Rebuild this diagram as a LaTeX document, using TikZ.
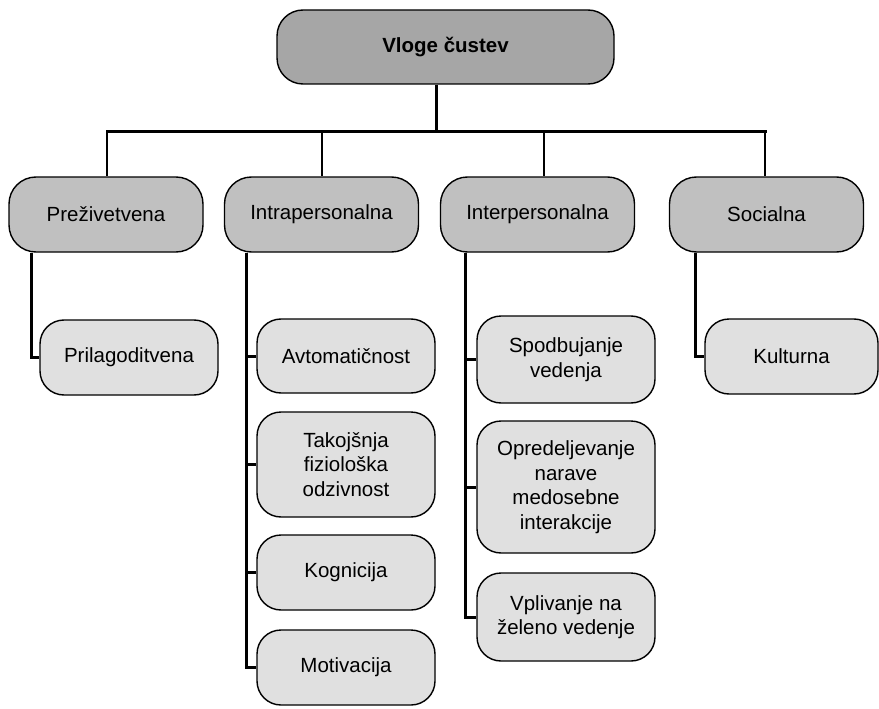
\documentclass[tikz,border=0pt]{standalone}
\usepackage{fontspec}
\setmainfont{Liberation Sans}
\definecolor{rootgray}{HTML}{A6A6A6}
\definecolor{groupgray}{HTML}{C0C0C0}
\definecolor{leafgray}{HTML}{E0E0E0}
\tikzset{
    box/.style = {draw, line width=1.4pt, align=center, inner sep=0pt,
        font=\fontsize{20.5}{24.5}\selectfont},
    rootbox/.style = {box, fill=rootgray, rounded corners=26pt,
        minimum width=337pt, minimum height=74pt,
        font=\fontsize{20.5}{24.5}\selectfont\bfseries},
    groupbox/.style = {box, fill=groupgray, rounded corners=27pt,
        minimum width=194pt, minimum height=75pt},
    leafbox/.style = {box, fill=leafgray, rounded corners=24pt,
        minimum width=178pt},
    conn/.style = {line width=3pt},
    drop/.style = {line width=2.2pt},
}
\begin{document}
\begin{tikzpicture}[x=1pt, y=-1pt]
    \useasboundingbox (0,0) rectangle (879,709);
    % top level
    \node[rootbox] (root) at (445.5,47) {Vloge čustev};
    \node[groupbox] (prez)  at (106,214.5)   {Preživetvena};
    \node[groupbox] (intra) at (321.5,214.5) {Intrapersonalna};
    \node[groupbox] (inter) at (537.5,214.5) {Interpersonalna};
    \node[groupbox] (soc)   at (766.5,214.5) {Socialna};
    % leaves
    \node[leafbox, minimum height=75pt]  (pril) at (129,357.5) {Prilagoditvena};
    \node[leafbox, minimum height=74pt]  (avto) at (346,356)   {Avtomatičnost};
    \node[leafbox, minimum height=105pt] (tako) at (346,464.5) {Takojšnja\\fiziološka\\odzivnost};
    \node[leafbox, minimum height=75pt]  (kogn) at (346,572.5) {Kognicija};
    \node[leafbox, minimum height=75pt]  (moti) at (346,667.5) {Motivacija};
    \node[leafbox, minimum height=87pt]  (spod) at (566,359.5) {Spodbujanje\\vedenja};
    \node[leafbox, minimum height=132pt] (opre) at (566,487)   {Opredeljevanje\\narave\\medosebne\\interakcije};
    \node[leafbox, minimum height=88pt]  (vpli) at (566,617)   {Vplivanje na\\želeno vedenje};
    \node[leafbox, minimum height=75pt, minimum width=173pt] (kult) at (791.5,356.5) {Kulturna};
    % bus
    \coordinate (bus)  at (436,131);
    \coordinate (busA) at (107,131);
    \coordinate (busB) at (322,131);
    \coordinate (busC) at (544,131);
    \coordinate (busD) at (765,131);
    \draw[conn] (root.south -| bus) -- (bus);
    \draw[conn, line cap=rect] (busA) -- (busD);
    \foreach \b/\n in {busA/prez, busB/intra, busC/inter, busD/soc}
        \draw[drop] (\b) -- (\n.north -| \b);
    % branches
    \draw[conn] ([xshift=23pt]prez.south west) |- (pril.west);
    \foreach \n in {avto, tako, kogn, moti}
        \draw[conn] ([xshift=23pt]intra.south west) |- (\n.west);
    \foreach \n in {spod, opre, vpli}
        \draw[conn] ([xshift=26pt]inter.south west) |- (\n.west);
    \draw[conn] ([xshift=27pt]soc.south west) |- (kult.west);
\end{tikzpicture}
\end{document}
